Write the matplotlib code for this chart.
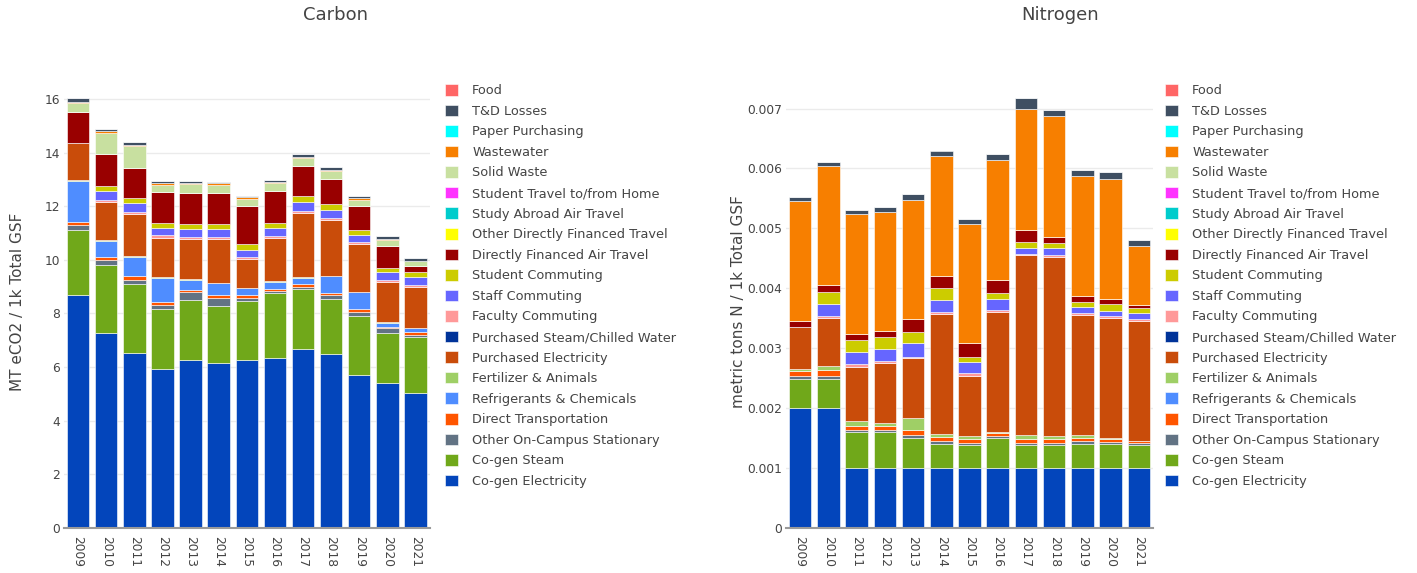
import numpy as np
import matplotlib
matplotlib.use("Agg")
import matplotlib.pyplot as plt
from matplotlib.patches import Patch
from matplotlib.ticker import FuncFormatter

plt.rcParams['font.family'] = ['DejaVu Sans']

years = ['2009', '2010', '2011', '2012', '2013', '2014', '2015',
         '2016', '2017', '2018', '2019', '2020', '2021']

# stacking order, bottom first
categories = [
    'Co-gen Electricity', 'Co-gen Steam', 'Other On-Campus Stationary',
    'Direct Transportation', 'Refrigerants & Chemicals', 'Fertilizer & Animals',
    'Purchased Electricity', 'Purchased Steam/Chilled Water', 'Faculty Commuting',
    'Staff Commuting', 'Student Commuting', 'Directly Financed Air Travel',
    'Other Directly Financed Travel', 'Study Abroad Air Travel',
    'Student Travel to/from Home', 'Solid Waste', 'Wastewater',
    'Paper Purchasing', 'T&D Losses', 'Food',
]
colors = [
    '#0345bb', '#70a81a', '#627384', '#ff5500', '#4f8dff', '#9fcf66',
    '#c94c0a', '#003399', '#ff9999', '#6666ff', '#cccc00', '#990000',
    '#ffff00', '#00cccc', '#ff33ff', '#c8e0a0', '#f77f00', '#00ffff',
    '#3f4f62', '#ff6666',
]

# Carbon, MT eCO2 / 1k Total GSF
c_cogen_elec = [8.70, 7.26, 6.52, 5.92, 6.27, 6.15, 6.26, 6.32, 6.68, 6.49, 5.71, 5.41, 5.05]
c_cogen_steam = [2.42, 2.55, 2.57, 2.24, 2.24, 2.14, 2.21, 2.44, 2.24, 2.05, 2.20, 1.85, 2.09]
c_other_stat = [0.18, 0.19, 0.16, 0.16, 0.28, 0.28, 0.10, 0.08, 0.08, 0.13, 0.14, 0.19, 0.06]
c_direct_trans = [0.10, 0.09, 0.13, 0.09, 0.10, 0.10, 0.12, 0.08, 0.09, 0.09, 0.12, 0.06, 0.09]
c_refrig = [1.55, 0.62, 0.74, 0.91, 0.36, 0.46, 0.25, 0.27, 0.23, 0.62, 0.62, 0.15, 0.15]
c_fert = [0.02, 0.02, 0.02, 0.02, 0.02, 0.02, 0.02, 0.02, 0.02, 0.02, 0.02, 0.02, 0.02]
c_purch_elec = [1.37, 1.42, 1.56, 1.49, 1.51, 1.63, 1.08, 1.62, 2.41, 2.09, 1.78, 1.49, 1.54]
c_purch_steam = [0] * 13
c_faculty = [0, 0.08, 0.08, 0.08, 0.08, 0.07, 0.05, 0.07, 0.08, 0.07, 0.06, 0.07, 0.07]
c_staff = [0, 0.32, 0.33, 0.27, 0.29, 0.30, 0.28, 0.28, 0.32, 0.31, 0.28, 0.30, 0.28]
c_student = [0, 0.19, 0.19, 0.21, 0.20, 0.20, 0.22, 0.21, 0.21, 0.21, 0.19, 0.17, 0.19]
c_air = [1.16, 1.20, 1.14, 1.12, 1.14, 1.14, 1.40, 1.18, 1.12, 0.93, 0.87, 0.81, 0.21]
c_other_travel = [0] * 13
c_abroad = [0] * 13
c_home = [0] * 13
c_solid = [0.35, 0.79, 0.79, 0.29, 0.33, 0.31, 0.29, 0.29, 0.31, 0.31, 0.25, 0.23, 0.19]
c_waste_water = [0.05, 0.06, 0.06, 0.05, 0.05, 0.05, 0.05, 0.05, 0.05, 0.04, 0.06, 0.03, 0.03]
c_paper = [0] * 13
c_td = [0.13, 0.10, 0.10, 0.10, 0.07, 0.06, 0.06, 0.08, 0.10, 0.11, 0.09, 0.09, 0.09]
c_food = [0] * 13

# Nitrogen, in thousandths of metric tons N / 1k Total GSF
n_cogen_elec = [2.0, 2.0, 1.0, 1.0, 1.0, 1.0, 1.0, 1.0, 1.0, 1.0, 1.0, 1.0, 1.0]
n_cogen_steam = [0.49, 0.49, 0.60, 0.60, 0.50, 0.40, 0.38, 0.50, 0.38, 0.38, 0.40, 0.40, 0.38]
n_other_stat = [0.05, 0.05, 0.04, 0.04, 0.06, 0.05, 0.04, 0.03, 0.04, 0.04, 0.05, 0.03, 0.04]
n_direct_trans = [0.08, 0.09, 0.07, 0.06, 0.08, 0.07, 0.07, 0.05, 0.06, 0.07, 0.05, 0.06, 0.03]
n_refrig = [0] * 13
n_fert = [0.03, 0.08, 0.07, 0.05, 0.20, 0.05, 0.05, 0.03, 0.07, 0.04, 0.05, 0.02, 0.01]
n_purch_elec = [0.70, 0.79, 0.91, 1.00, 1.00, 2.00, 1.00, 1.99, 3.00, 2.99, 2.00, 2.00, 2.00]
n_purch_steam = [0] * 13
n_faculty = [0, 0.04, 0.04, 0.03, 0.02, 0.04, 0.04, 0.04, 0.03, 0.04, 0.03, 0.03, 0.03]
n_staff = [0, 0.20, 0.20, 0.21, 0.22, 0.19, 0.19, 0.19, 0.10, 0.11, 0.10, 0.08, 0.09]
n_student = [0, 0.20, 0.20, 0.19, 0.19, 0.20, 0.09, 0.10, 0.09, 0.09, 0.10, 0.11, 0.09]
n_air = [0.10, 0.11, 0.10, 0.10, 0.21, 0.20, 0.22, 0.21, 0.20, 0.10, 0.10, 0.10, 0.05]
n_other_travel = [0] * 13
n_abroad = [0] * 13
n_home = [0] * 13
n_solid = [0] * 13
n_waste_water = [2.01, 1.99, 2.01, 2.00, 2.00, 2.00, 1.99, 2.00, 2.02, 2.02, 2.00, 2.00, 0.99]
n_paper = [0] * 13
n_td = [0.06, 0.06, 0.06, 0.08, 0.09, 0.10, 0.08, 0.10, 0.19, 0.10, 0.09, 0.11, 0.10]
n_food = [0] * 13

carbon = [c_cogen_elec, c_cogen_steam, c_other_stat, c_direct_trans, c_refrig, c_fert,
          c_purch_elec, c_purch_steam, c_faculty, c_staff, c_student, c_air,
          c_other_travel, c_abroad, c_home, c_solid, c_waste_water, c_paper, c_td, c_food]
nitrogen = [n_cogen_elec, n_cogen_steam, n_other_stat, n_direct_trans, n_refrig, n_fert,
            n_purch_elec, n_purch_steam, n_faculty, n_staff, n_student, n_air,
            n_other_travel, n_abroad, n_home, n_solid, n_waste_water, n_paper, n_td, n_food]
nitrogen = [np.array(s) * 1e-3 for s in nitrogen]

W, H = 1417, 573
fig = plt.figure(figsize=(W / 100, H / 100), dpi=100)
TXT = '#444444'


def px_axes(left, right, top, bottom):
    return fig.add_axes([left / W, 1 - bottom / H, (right - left) / W, (bottom - top) / H])


def draw_panel(ax, series, ymax, ticks, fmt):
    x = np.arange(len(years))
    base = np.zeros(len(years))
    for vals, col in zip(series, colors):
        vals = np.asarray(vals, dtype=float)
        ax.bar(x, vals, width=0.8, bottom=base, color=col,
               edgecolor='white', linewidth=0.4, zorder=3)
        base += vals
    ax.set_xlim(-0.5, len(years) - 0.5)
    ax.set_ylim(0, ymax)
    ax.set_xticks(x)
    ax.set_xticklabels(years, rotation=-90, fontsize=8.8, color=TXT)
    ax.set_yticks(ticks)
    ax.yaxis.set_major_formatter(FuncFormatter(fmt))
    ax.tick_params(axis='y', length=0, pad=3, labelsize=8.8, labelcolor=TXT)
    ax.tick_params(axis='x', length=0, pad=6)
    ax.grid(axis='y', color='#ebebeb', linewidth=1, zorder=0)
    for s in ['top', 'right', 'left']:
        ax.spines[s].set_visible(False)
    ax.spines['bottom'].set_color('#9a9a9a')
    ax.spines['bottom'].set_linewidth(1.5)
    ax.spines['bottom'].set_zorder(4)


ax1 = px_axes(64, 429.5, 75, 528)
draw_panel(ax1, carbon, 16.89, np.arange(0, 17, 2), lambda v, _: f"{v:g}")
ax2 = px_axes(786, 1153, 75, 528)
draw_panel(ax2, nitrogen, 0.00756, np.arange(0, 0.0075, 0.001),
           lambda v, _: "0" if abs(v) < 1e-9 else f"{v:.3f}")

fig.text(336 / W, 1 - 15 / H, 'Carbon', ha='center', va='center', fontsize=13, color=TXT)
fig.text(1060 / W, 1 - 15 / H, 'Nitrogen', ha='center', va='center', fontsize=13, color=TXT)
fig.text(18 / W, 1 - 302 / H, 'MT eCO2 / 1k Total GSF', rotation=90,
         ha='center', va='center', fontsize=11, color=TXT)
fig.text(739 / W, 1 - 302 / H, 'metric tons N / 1k Total GSF', rotation=90,
         ha='center', va='center', fontsize=11, color=TXT)

handles = [Patch(facecolor=c, edgecolor='white', linewidth=0.4, label=n)
           for n, c in zip(categories, colors)][::-1]
for lx in (445, 1165):
    fig.legend(handles=handles, loc='upper left', bbox_to_anchor=(lx / W, 1 - 84 / H),
               frameon=False, fontsize=9.3, handlelength=1.0, handleheight=1.0,
               handletextpad=1.1, labelspacing=0.57, borderpad=0, borderaxespad=0,
               labelcolor=TXT)

fig.savefig('out.png', dpi=100)
